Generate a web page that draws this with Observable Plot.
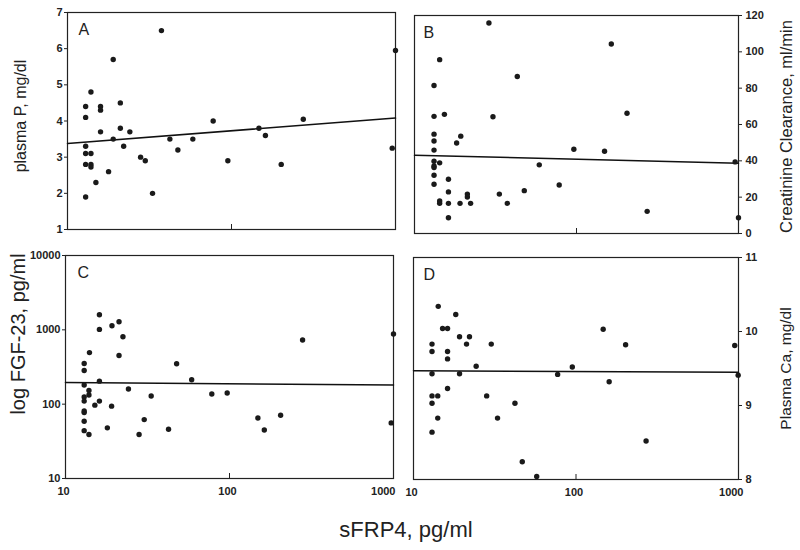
<!DOCTYPE html>
<html><head><meta charset="utf-8">
<script src="https://cdn.jsdelivr.net/npm/d3@7"></script>
<script src="https://cdn.jsdelivr.net/npm/@observablehq/plot@0.6"></script>
<style>
body{margin:0;background:#fff;}
#wrap{position:relative;width:800px;height:550px;font-family:"Liberation Sans",Arial,sans-serif;color:#222;}
.panel{position:absolute;}
#xtitle{position:absolute;left:0;width:812px;top:519px;text-align:center;font-size:22px;line-height:22px;color:#222;}
g[aria-label$="tick label"]{font-weight:bold;}
</style></head><body>
<div id="wrap">
  <div class="panel" id="pA" style="left:0;top:0"></div>
  <div class="panel" id="pB" style="left:400px;top:0"></div>
  <div class="panel" id="pC" style="left:0;top:240px"></div>
  <div class="panel" id="pD" style="left:400px;top:240px"></div>
  <div id="xtitle">sFRP4, pg/ml</div>
</div>
<script>
// Panel A: plasma P vs sFRP4
const sfrpA = [12.9,12.9,12.9,12.9,12.9,12.9,13.9,13.9,13.9,13.9,14.9,15.9,15.9,15.9,17.8,19.0,19.0,21.0,21.0,22.0,24.0,27.9,29.8,33.0,37.4,42.1,47.1,58.1,77.3,95,147,161,201,274,955,1000];
const plasmaP = [1.9,4.4,4.1,3.3,3.1,2.8,4.8,3.1,2.8,2.73,2.3,4.4,4.3,3.7,2.6,5.7,3.5,4.5,3.8,3.3,3.7,3.0,2.9,2.0,6.5,3.5,3.2,3.5,4.0,2.9,3.8,3.6,2.8,4.05,3.25,5.95];
// Panel B: creatinine clearance
const sfrpB = [13.2,13.2,13.2,13.2,13.2,13.2,13.2,13.2,13.2,13.2,14.3,14.3,14.3,14.3,15.3,16.2,16.2,16.2,16.2,18.2,19.1,19.3,21.2,21.2,22.2,28.8,30.5,33.4,37.4,43.1,47.6,58.9,78.2,96.3,149,164,205,273,953,1000];
const creatClear = [81.5,64.5,54.7,50.9,45.9,39.8,37.2,36.3,32.1,27.1,95.7,38.9,17.9,16.6,65.6,29.9,22.9,16.6,8.7,49.8,16.6,53.6,21.7,20.1,16.6,115.9,64.3,21.7,16.6,86.4,23.6,37.8,26.7,46.4,45.3,104.3,66.2,12.2,39.4,8.7];
// Panel C: FGF-23 (log)
const sfrpC = [13.0,13.0,13.0,13.0,13.0,13.0,13.0,13.0,13.0,13.9,14.0,13.9,13.9,15.1,16.1,16.1,16.1,16.1,18.0,19.1,19.2,21.2,21.2,22.4,24.2,28.1,30.2,33.3,42.5,47.6,58.8,78,96.8,149,163,205,279,968,1000];
const fgf23 = [352,284,181,125,110,81,77,59,44,39,494,153,133,97,1592,1014,204,110,48,94,1135,1283,451,809,160,39,62,129,46,349,213,137,141,65,45,71,729,56,877];
// Panel D: plasma Ca
const sfrpD = [13.0,13.0,13.0,13.0,13.0,13.0,14.2,14.1,14.1,15.1,16.2,16.2,16.2,16.2,18.2,19.2,19.2,21.2,22.1,24.3,28.2,30.1,32.9,42.1,46.7,57.3,77.1,94.9,147,160,202,270,948,995];
const plasmaCa = [9.83,9.73,9.43,9.13,9.03,8.64,10.34,9.13,8.83,10.04,10.04,9.73,9.63,9.23,10.23,9.93,9.43,9.83,9.93,9.53,9.13,9.83,8.83,9.03,8.24,8.04,9.42,9.52,10.03,9.32,9.82,8.52,9.81,9.41];
// Regression lines (endpoints at x = 10 and 1000)
const fitX = [10, 1000];
const fitA = [3.38, 4.08];
const fitB = [43.1, 38.7];
const fitC = [196, 181];
const fitD = [9.47, 9.45];
// Tick labels
const xTicksInner = [10, 100];
const xTicksEnd = [1000];
const ticksA = [1,2,3,4,5,6,7];
const ticksB = [0,20,40,60,80,100,120];
const ticksC = [10,100,1000,10000];
const ticksD = [8,9,10,11];

function panel(o) {
  const pts = o.xs.map((x, i) => ({x, y: o.ys[i]}));
  const fit = fitX.map((x, i) => ({x, y: o.fit[i]}));
  const frameH = o.height - o.mt - o.mb;
  const left = o.side === "left";
  const marks = [
    Plot.frame({stroke: "#222", strokeWidth: 1.2}),
    Plot.tickX([100], {x: d => d, insetTop: frameH - 5, stroke: "#222", strokeWidth: 1}),
    Plot.axisY({anchor: o.side, ticks: o.yTicks, tickFormat: d3.format("d"), tickSize: 3, tickPadding: left ? 2 : 4,
      fontSize: 11, label: null}),
    Plot.line(fit, {x: "x", y: "y", stroke: "#111", strokeWidth: 1.5}),
    Plot.dot(pts, {x: "x", y: "y", r: 2.7, fill: "#1a1a1a", stroke: null}),
    Plot.text([o.letter], {text: d => d, frameAnchor: "top-left", dx: o.ldx, dy: 22, lineAnchor: "bottom", textAnchor: "start", fontSize: 16, fill: "#222"}),
    Plot.text([o.yLabel], {text: d => d, frameAnchor: o.side, rotate: -90, dx: o.tdx, dy: o.tdy, fontSize: o.labelSize, fill: "#222", textAnchor: "middle", lineAnchor: "middle"})
  ];
  if (o.xLabels) {
    marks.push(Plot.axisX({ticks: xTicksInner, tickFormat: d3.format("d"), tickSize: 0, tickPadding: 9, dx: -2, fontSize: 11, label: null}));
    marks.push(Plot.axisX({ticks: xTicksEnd, tickFormat: d3.format("d"), tickSize: 0, tickPadding: 9, dx: o.endDx, textAnchor: "end", fontSize: 11, label: null}));
  }
  const chart = Plot.plot({
    width: 400, height: o.height,
    marginLeft: o.ml, marginRight: o.mr, marginTop: o.mt, marginBottom: o.mb,
    style: {fontFamily: '"Liberation Sans", Arial, sans-serif', color: "#222", background: "transparent", overflow: "visible"},
    x: {type: "log", domain: [10, 1000], axis: null},
    y: {type: o.yType, domain: o.yDomain, axis: null},
    marks
  });
  document.getElementById(o.id).appendChild(chart);
}

panel({id: "pA", xs: sfrpA, ys: plasmaP, fit: fitA, yType: "linear", yDomain: [1, 7], yTicks: ticksA,
  yLabel: "plasma P, mg/dl", letter: "A", side: "left", height: 240, ml: 67, mr: 5, mt: 12, mb: 11,
  ldx: 11, tdx: -47, tdy: -5, labelSize: 16, xLabels: false});
panel({id: "pB", xs: sfrpB, ys: creatClear, fit: fitB, yType: "linear", yDomain: [0, 120], yTicks: ticksB,
  yLabel: "Creatinine Clearance, ml/min", letter: "B", side: "right", height: 240, ml: 14, mr: 62, mt: 15, mb: 7,
  ldx: 9, tdx: 48, tdy: 2, labelSize: 16.5, xLabels: false});
panel({id: "pC", xs: sfrpC, ys: fgf23, fit: fitC, yType: "log", yDomain: [10, 10000], yTicks: ticksC,
  yLabel: "log FGF-23, pg/ml", letter: "C", side: "left", height: 270, ml: 65, mr: 7, mt: 15, mb: 32,
  ldx: 12, tdx: -47, tdy: -33, labelSize: 20, xLabels: true, endDx: 2});
panel({id: "pD", xs: sfrpD, ys: plasmaCa, fit: fitD, yType: "linear", yDomain: [8, 11], yTicks: ticksD,
  yLabel: "Plasma Ca, mg/dl", letter: "D", side: "right", height: 270, ml: 13, mr: 62, mt: 17, mb: 31,
  ldx: 10, tdx: 48, tdy: 0, labelSize: 15.5, xLabels: true, endDx: 5});
</script>
</body></html>
